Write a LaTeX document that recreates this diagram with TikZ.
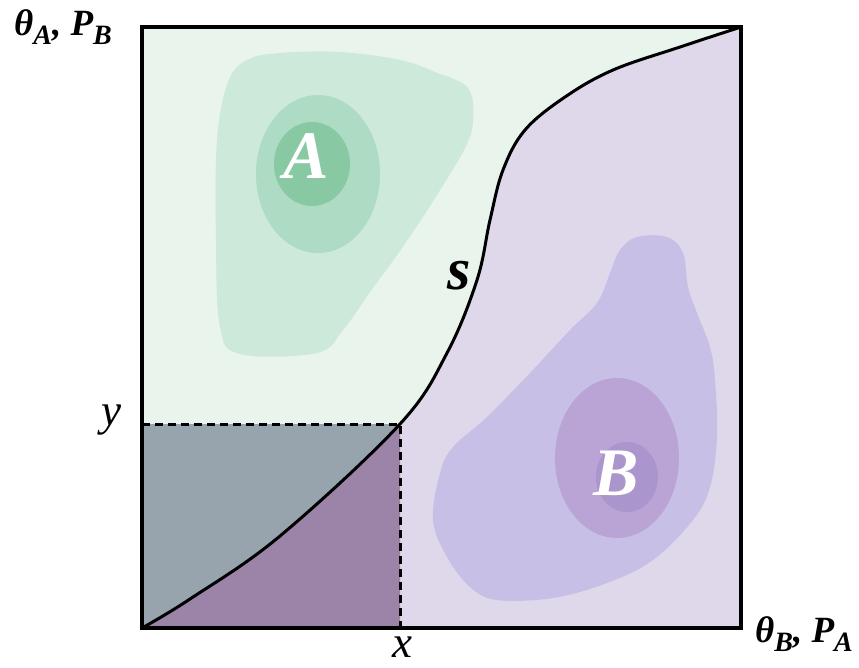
\documentclass[tikz,border=0pt]{standalone}
\usepackage{fontspec}
\setmainfont{Liberation Serif}
\usetikzlibrary{positioning}
\usepackage{xcolor}

\definecolor{greenbg}{HTML}{E8F4EC}
\definecolor{purplebg}{HTML}{DFD8EA}
\definecolor{greenlow}{HTML}{CDE9DA}
\definecolor{greenmid}{HTML}{ADDBC3}
\definecolor{greentop}{HTML}{88C9A3}
\definecolor{purplelow}{HTML}{C7BFE5}
\definecolor{purplemid}{HTML}{B9A4D5}
\definecolor{purpletop}{HTML}{AA95CC}
\definecolor{grayblue}{HTML}{97A4AD}
\definecolor{darkpurple}{HTML}{9C84A8}

\newcommand{\lowsub}[1]{\raisebox{-9pt}{\fontsize{28}{28}\selectfont #1}}
\def\scurvepath{plot[smooth, tension=0.6] coordinates {(142,628) (190,599) (280,536) (400,424) (447,353) (477,280) (490,220) (503,170) (525,130) (565,97) (613,70) (680,47) (741,27)}}

\begin{document}
\begin{tikzpicture}[x=1pt, y=-1pt,
  axislbl/.style={font=\fontsize{37}{37}\selectfont\bfseries\itshape, inner sep=0pt},
  varlbl/.style={font=\fontsize{45}{45}\selectfont\itshape, inner sep=0pt},
  peaklbl/.style={font=\fontsize{68}{68}\selectfont\bfseries\itshape, text=white, inner sep=0pt}]
\useasboundingbox (0,0) rectangle (859,667);

% regions
\fill[greenbg] (142,27) rectangle (741,628);
\fill[purplebg] \scurvepath -- (741,628) -- cycle;

% density of A
\fill[greenlow] plot[smooth cycle, tension=0.6] coordinates {(247,60) (280,53) (340,52) (400,60) (435,72) (468,88) (473,120) (465,148) (435,198) (402,248) (370,292) (343,330) (317,353) (240,354) (220,327) (216,240) (217,140) (228,82)};
\fill[greenmid] (318,174) ellipse [x radius=62, y radius=79];
\fill[greentop] (312,164) ellipse [x radius=38, y radius=42];

% density of B
\fill[purplelow] plot[smooth cycle, tension=0.6] coordinates {(637,237) (667,237) (683,253) (688,287) (697,313) (710,347) (715,380) (717,437) (710,487) (693,520) (653,560) (607,583) (553,598) (497,600) (470,587) (447,557) (433,520) (440,473) (453,447) (487,417) (530,373) (570,330) (597,303) (610,273) (620,250)};
\fill[purplemid] (617,458) ellipse [x radius=62, y radius=80];
\fill[purpletop] (627,477) ellipse [x radius=31, y radius=35];

% lower-left box
\fill[grayblue] (142,424) rectangle (400,628);
\begin{scope}
\clip (142,424) rectangle (400,628);
\fill[darkpurple] \scurvepath -- (741,628) -- cycle;
\end{scope}

% separating curve
\draw[line width=3pt] \scurvepath;

\coordinate (xy) at (400,424);
\coordinate (xax) at (400,628);
\coordinate (yax) at (142,424);
\draw[line width=3pt, dash pattern=on 8pt off 5pt] (yax) -- (xy) -- (xax);

\draw[line width=3.5pt] (142,27) rectangle (741,628);

% labels
\node[axislbl, anchor=base west] (topleft) at (14,35) {θ\lowsub{A}, P\lowsub{B}};
\node[axislbl, anchor=base west] (botright) at (755,642) {θ\lowsub{B}, P\lowsub{A}};
\node[varlbl, anchor=base] (ylbl) at (111,425) {y};
\node[varlbl, anchor=base] (xlbl) at (402,657) {x};
\node[peaklbl] (peakA) at (306,156) {A};
\node[peaklbl] (peakB) at (616,473) {B};
\node[font=\fontsize{60}{60}\selectfont\bfseries\itshape, inner sep=0pt] (slbl) at (459,276) {s};
\end{tikzpicture}
\end{document}
